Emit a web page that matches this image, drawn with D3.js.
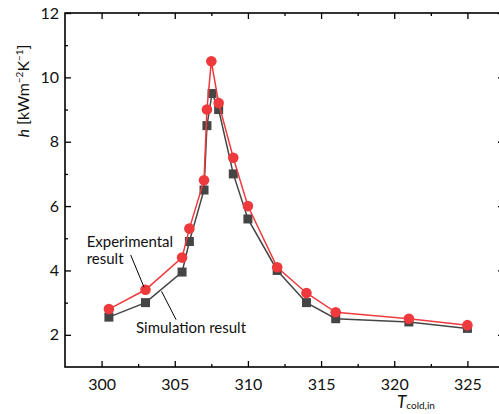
<!DOCTYPE html>
<html>
<head>
<meta charset="utf-8">
<script src="https://cdn.jsdelivr.net/npm/d3@7"></script>
<style>
  body { margin: 0; background: #fff; }
  text { font-family: Lato, "Noto Sans", sans-serif; }
</style>
</head>
<body>
<div id="chart"></div>
<script>
// data
var tempExp = [300.5, 303, 305.5, 306, 307, 307.2, 307.5, 308, 309, 310, 312, 314, 316, 321, 325];
var hExp    = [2.8, 3.4, 4.4, 5.3, 6.8, 9.0, 10.5, 9.2, 7.5, 6.0, 4.1, 3.3, 2.7, 2.5, 2.3];
var tempSim = [300.5, 303, 305.5, 306, 307, 307.2, 307.55, 308, 309, 310, 312, 314, 316, 321, 325];
var hSim    = [2.55, 3.0, 3.95, 4.9, 6.5, 8.5, 9.5, 9.0, 7.0, 5.6, 4.0, 3.0, 2.5, 2.4, 2.2];
var xMajor = [300, 305, 310, 315, 320, 325];
var xMinor = [302.5, 307.5, 312.5, 317.5, 322.5];
var yMajor = [2, 4, 6, 8, 10, 12];
var yMinor = [3, 5, 7, 9, 11];

var svgWidth = 499;
var svgHeight = 414;
var margin = {top: 13, right: -5, bottom: 47, left: 65};
var width = svgWidth - margin.left - margin.right;
var height = svgHeight - margin.top - margin.bottom;

var red = "#ee3a3d";
var grey = "#454545";

var svg = d3.select("#chart")
  .append("svg")
  .attr("width", svgWidth)
  .attr("height", svgHeight);

var chartGroup = svg.append("g")
  .attr("transform", `translate(${margin.left}, ${margin.top})`);

var xScale = d3.scaleLinear().domain([297.5, 327.5]).range([0, width]);
var yScale = d3.scaleLinear().domain([1, 12]).range([height, 0]);

// axes, ticks pointing inward
function addAxis(axis, transform, ticks, size, labels) {
  var g = chartGroup.append("g")
    .attr("transform", transform)
    .call(axis.tickValues(ticks).tickSize(-size).tickPadding(6)
      .tickFormat(labels ? d3.format("d") : ""));
  g.select(".domain").remove();
  g.selectAll("line").attr("stroke", "#000").attr("stroke-width", 1.3);
  g.selectAll("text").attr("font-size", 16).attr("fill", "#111");
  return g;
}
addAxis(d3.axisBottom(xScale), `translate(0, ${height})`, xMajor, 6, true)
  .selectAll("text").attr("dy", "1.05em");
addAxis(d3.axisBottom(xScale), `translate(0, ${height})`, xMinor, 3, false);
addAxis(d3.axisTop(xScale), "translate(0, 0)", xMajor, 6, false);
addAxis(d3.axisTop(xScale), "translate(0, 0)", xMinor, 3, false);
addAxis(d3.axisLeft(yScale), "translate(0, 0)", yMajor, 6, true);
addAxis(d3.axisLeft(yScale), "translate(0, 0)", yMinor, 3, false);
addAxis(d3.axisRight(yScale), `translate(${width}, 0)`, yMajor, 6, false);
addAxis(d3.axisRight(yScale), `translate(${width}, 0)`, yMinor, 3, false);

// frame
chartGroup.append("rect")
  .attr("width", width)
  .attr("height", height)
  .attr("fill", "none")
  .attr("stroke", "#000")
  .attr("stroke-width", 1.6);

var line = d3.line()
  .x(d => xScale(d[0]))
  .y(d => yScale(d[1]));

var simData = tempSim.map((t, i) => [t, hSim[i]]);
var expData = tempExp.map((t, i) => [t, hExp[i]]);

// simulation series
chartGroup.append("path")
  .datum(simData)
  .attr("d", line)
  .attr("fill", "none")
  .attr("stroke", grey)
  .attr("stroke-width", 1.5);

chartGroup.selectAll(".sim")
  .data(simData)
  .enter()
  .append("rect")
  .attr("class", "sim")
  .attr("x", d => xScale(d[0]) - 4.5)
  .attr("y", d => yScale(d[1]) - 4.5)
  .attr("width", 9)
  .attr("height", 9)
  .attr("fill", grey);

// experimental series
chartGroup.append("path")
  .datum(expData)
  .attr("d", line)
  .attr("fill", "none")
  .attr("stroke", red)
  .attr("stroke-width", 1.5);

chartGroup.selectAll(".exp")
  .data(expData)
  .enter()
  .append("circle")
  .attr("class", "exp")
  .attr("cx", d => xScale(d[0]))
  .attr("cy", d => yScale(d[1]))
  .attr("r", 5.3)
  .attr("fill", red);

// annotations
var notes = chartGroup.append("g").attr("font-size", 15).attr("fill", "#111");
notes.append("text").attr("x", xScale(298.98)).attr("y", yScale(4.74)).text("Experimental");
notes.append("text").attr("x", xScale(298.98)).attr("y", yScale(4.2)).text("result");
notes.append("text").attr("x", xScale(302.35)).attr("y", yScale(2.06)).text("Simulation result");

chartGroup.append("line")
  .attr("x1", xScale(301.99)).attr("y1", yScale(4.48))
  .attr("x2", xScale(302.9)).attr("y2", yScale(3.48))
  .attr("stroke", "#000").attr("stroke-width", 1);
chartGroup.append("line")
  .attr("x1", xScale(304.1)).attr("y1", yScale(3.35))
  .attr("x2", xScale(305.09)).attr("y2", yScale(2.47))
  .attr("stroke", "#000").attr("stroke-width", 1);

// axis titles
var yTitle = svg.append("text")
  .attr("transform", "translate(29, 91) rotate(-90)")
  .attr("text-anchor", "middle")
  .attr("font-size", 16)
  .attr("fill", "#111");
yTitle.append("tspan").attr("font-style", "italic").text("h");
yTitle.append("tspan").text(" [kWm");
yTitle.append("tspan").attr("font-size", 10).attr("dy", -6).text("\u22122");
yTitle.append("tspan").attr("dy", 6).text("K");
yTitle.append("tspan").attr("font-size", 10).attr("dy", -6).text("\u22121");
yTitle.append("tspan").attr("dy", 6).text("]");

var xTitle = svg.append("text")
  .attr("x", 397)
  .attr("y", 408)
  .attr("font-size", 17)
  .attr("fill", "#111");
xTitle.append("tspan").attr("font-style", "italic").text("T");
xTitle.append("tspan").attr("font-size", 10).attr("dy", 1).text("cold,in");
</script>
</body>
</html>
